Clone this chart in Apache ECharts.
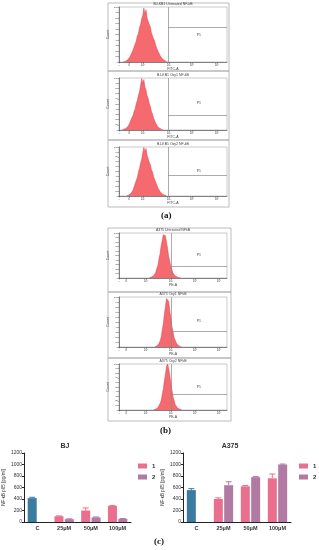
<!DOCTYPE html>
<html><head><meta charset="utf-8">
<script src="https://cdn.jsdelivr.net/npm/echarts@6/dist/echarts.min.js"></script>
<style>html,body{margin:0;padding:0;background:#fff}#c{width:319px;height:550px}</style>
</head><body><div id="c"></div>
<script>
// ---------- DATA ----------
// Flow cytometry histograms (counts per bin, bin width 10 channel units)
const histBinWidth = 10;
const histA1Start = 40;
const histA1 = [0,1,1,3,4,7,9,13,16,22,25,33,38,48,52,63,68,79,84,98,87,95,80,77,68,64,53,50,42,38,30,27,20,18,12,10,6,5,3,2,1,0];
const histA2Start = 30;
const histA2 = [0,1,2,3,4,7,9,14,17,24,28,36,41,51,57,67,74,86,99,89,97,82,77,66,61,51,45,36,31,23,20,13,11,6,5,3,1,1,0];
const histA3Start = 70;
const histA3 = [0,1,2,4,5,9,12,19,23,32,38,49,56,67,75,88,99,90,97,83,79,69,64,54,49,40,36,28,24,17,15,9,7,4,3,2,1,0];
const histB1Start = 280;
const histB1 = [0,1,2,3,5,8,12,21,28,42,54,71,83,96,100,94,79,65,48,37,25,19,11,8,5,3,2,1,1,0];
const histB2Start = 330;
const histB2 = [0,1,2,4,7,12,19,33,46,65,81,97,100,91,73,58,41,31,19,14,8,5,3,2,1,0];
const histB3Start = 320;
const histB3 = [0,1,2,3,5,8,14,20,33,45,63,78,95,100,90,77,58,44,29,21,12,8,5,3,2,1,0];

const histTitlesA = ['BJ-KB1 Untreated NF-kB', 'BJ-KB1 Oxy1 NF-kB', 'BJ-KB1 Oxy2 NF-kB'];
const histTitlesB = ['A375 Untreated NFkB', 'A375 Oxy1 NFkB', 'A375 Oxy2 NFkB'];
const histTickLabels = ['-', '0', '10²', '10³', '10⁴', '10⁵'];
const histTicksA = [0, 93, 222, 463, 676, 907];
const histTicksB = [0, 65, 250, 481, 704, 926];
// P1 gate (x start, level) and label position
const gateXA = 454, gateXB = 481;
const gateLevelA = [64, 29, 43];
const gateLevelB = [26, 32, 34];
const p1X = 740;
const p1YA = [49, 52, 51];
const p1YB = [51, 52, 49];

// Bar charts (c)
const barCategories = ['C', '25μM', '50μM', '100μM'];
const bjSeries1 = [415, 100, 200, 280];
const bjSeries2 = [null, 50, 80, 55];
const bjErr1 = [15, 6, 45, 8];
const bjErr2 = [null, 5, 8, 5];
const a375Series1 = [555, 400, 620, 760];
const a375Series2 = [null, 640, 780, 1000];
const a375Err1 = [25, 20, 15, 75];
const a375Err2 = [null, 60, 10, 8];

// ---------- STYLE / LAYOUT ----------
const FONT = 'Liberation Sans';
const histFill = '#f46a6f', histEdge = '#e5404c';
const colC = '#3b7ba0', col1 = '#ea6f8e', col2 = '#b17aa3';
const barW = 9, barGapPct = 0.15;
const barOffset = (barW + barW * barGapPct) / 2;

const histPanels = [
  {top: 7,   h: 55, start: histA1Start, counts: histA1, title: histTitlesA[0], ticks: histTicksA, gx: gateXA, gy: gateLevelA[0], py: p1YA[0], xname: 'FITC-A'},
  {top: 78,  h: 52, start: histA2Start, counts: histA2, title: histTitlesA[1], ticks: histTicksA, gx: gateXA, gy: gateLevelA[1], py: p1YA[1], xname: 'FITC-A'},
  {top: 147, h: 49, start: histA3Start, counts: histA3, title: histTitlesA[2], ticks: histTicksA, gx: gateXA, gy: gateLevelA[2], py: p1YA[2], xname: 'FITC-A'},
  {top: 233, h: 45, start: histB1Start, counts: histB1, title: histTitlesB[0], ticks: histTicksB, gx: gateXB, gy: gateLevelB[0], py: p1YB[0], xname: 'PE-A'},
  {top: 297, h: 50, start: histB2Start, counts: histB2, title: histTitlesB[1], ticks: histTicksB, gx: gateXB, gy: gateLevelB[1], py: p1YB[1], xname: 'PE-A'},
  {top: 364, h: 46, start: histB3Start, counts: histB3, title: histTitlesB[2], ticks: histTicksB, gx: gateXB, gy: gateLevelB[2], py: p1YB[2], xname: 'PE-A'}
];

const grids = [], xAxes = [], yAxes = [], series = [], titles = [];

histPanels.forEach((p, i) => {
  grids.push({left: 119, width: 108, top: p.top, height: p.h, show: true, borderColor: '#aaa', borderWidth: 0.6, backgroundColor: '#fff'});
  const labelMap = {};
  p.ticks.forEach((t, k) => { labelMap[t] = histTickLabels[k]; });
  xAxes.push({
    type: 'value', gridIndex: i, min: 0, max: 1000,
    name: p.xname, nameLocation: 'middle', nameGap: 5,
    nameTextStyle: {fontSize: 3.5, color: '#444', fontFamily: FONT},
    axisLine: {lineStyle: {color: '#555', width: 0.7}},
    axisTick: {customValues: p.ticks, length: 1.5, lineStyle: {color: '#555', width: 0.5}},
    axisLabel: {customValues: p.ticks, formatter: v => labelMap[v] || '', fontSize: 3, margin: 1.5, color: '#444', fontFamily: FONT},
    splitLine: {show: false}
  });
  yAxes.push({
    type: 'value', gridIndex: i, min: 0, max: 100, interval: 10,
    name: 'Count', nameLocation: 'middle', nameGap: 7,
    nameTextStyle: {fontSize: 3.5, color: '#444', fontFamily: FONT},
    axisLine: {show: true, lineStyle: {color: '#555', width: 0.7}},
    axisTick: {show: true, length: 1.2, lineStyle: {color: '#555', width: 0.5}},
    axisLabel: {fontSize: 2.5, margin: 1, color: '#444', fontFamily: FONT},
    splitLine: {show: false}
  });
  series.push({
    type: 'line', xAxisIndex: i, yAxisIndex: i, symbol: 'none', silent: true,
    data: p.counts.map((c, k) => [p.start + k * histBinWidth, c]),
    lineStyle: {color: histEdge, width: 0.5},
    areaStyle: {color: histFill, opacity: 1},
    markLine: {
      silent: true, symbol: ['none', 'none'], label: {show: false},
      lineStyle: {color: '#888', width: 0.7, type: 'solid'},
      data: [{xAxis: p.gx}, [{coord: [p.gx, p.gy]}, {coord: [1000, p.gy]}]]
    },
    markPoint: {
      symbol: 'circle', symbolSize: 1, itemStyle: {color: 'rgba(0,0,0,0)'},
      label: {show: true, formatter: 'P1', fontSize: 3.5, color: '#444', fontFamily: FONT},
      data: [{coord: [p1X, p.py]}]
    }
  });
  titles.push({text: p.title, left: 173, textAlign: 'center', top: p.top - 4.5, padding: 0,
    textStyle: {fontSize: 3.5, fontWeight: 'normal', color: '#444', fontFamily: FONT}});
});

// bar charts
const barCharts = [
  {left: 23, title: 'BJ', titleX: 65, s1: bjSeries1, s2: bjSeries2, e1: bjErr1, e2: bjErr2, legendX: 138},
  {left: 183, title: 'A375', titleX: 230, s1: a375Series1, s2: a375Series2, e1: a375Err1, e2: a375Err2, legendX: 299}
];
const legends = [];
function errRender(sign) {
  return function (params, api) {
    const i = api.value(0), v = api.value(1), e = api.value(2);
    const base = api.coord([i, v]);
    const top = api.coord([i, v + e]);
    const x = base[0] + sign * barOffset;
    const c = api.visual('color');
    return {type: 'group', children: [
      {type: 'line', shape: {x1: x, y1: base[1], x2: x, y2: top[1]}, style: {stroke: c, lineWidth: 1}},
      {type: 'line', shape: {x1: x - 3, y1: top[1], x2: x + 3, y2: top[1]}, style: {stroke: c, lineWidth: 1}}
    ]};
  };
}
barCharts.forEach((b, j) => {
  const gi = histPanels.length + j;
  grids.push({left: b.left, width: 108, top: 453, height: 69});
  xAxes.push({
    type: 'category', gridIndex: gi, data: barCategories,
    axisLine: {lineStyle: {color: '#222', width: 1}},
    axisTick: {show: false},
    axisLabel: {fontSize: 5.5, fontWeight: 'bold', color: '#333', margin: 3, fontFamily: FONT, interval: 0}
  });
  yAxes.push({
    type: 'value', gridIndex: gi, min: 0, max: 1200, interval: 200,
    name: 'NF-κB p65 [pg/ml]', nameLocation: 'middle', nameGap: 18,
    nameTextStyle: {fontSize: 4.5, color: '#333', fontFamily: FONT},
    axisLine: {show: true, lineStyle: {color: '#222', width: 1}},
    axisTick: {show: true, length: 2, lineStyle: {color: '#222'}},
    axisLabel: {fontSize: 5, color: '#333', margin: 2, fontFamily: FONT, formatter: v => String(v)},
    splitLine: {show: false}
  });
  series.push({
    name: '1', type: 'bar', xAxisIndex: gi, yAxisIndex: gi, barWidth: barW, barGap: (barGapPct * 100) + '%',
    itemStyle: {color: col1},
    data: b.s1.map((v, k) => k === 0 ? {value: v, itemStyle: {color: colC}} : v)
  });
  series.push({
    name: '2', type: 'bar', xAxisIndex: gi, yAxisIndex: gi, barWidth: barW, barGap: (barGapPct * 100) + '%',
    itemStyle: {color: col2},
    data: b.s2.map(v => v === null ? '-' : v)
  });
  series.push({
    name: 'err1', type: 'custom', xAxisIndex: gi, yAxisIndex: gi, renderItem: errRender(-1), silent: true, z: 1,
    itemStyle: {color: col1},
    data: b.e1.map((e, k) => ({value: [k, b.s1[k], e], itemStyle: {color: k === 0 ? colC : col1}}))
  });
  series.push({
    name: 'err2', type: 'custom', xAxisIndex: gi, yAxisIndex: gi, renderItem: errRender(1), silent: true, z: 1,
    itemStyle: {color: col2},
    data: b.e2.map((e, k) => e === null ? null : ({value: [k, b.s2[k], e]})).filter(d => d)
  });
  titles.push({text: b.title, left: b.titleX, textAlign: 'center', top: 443, padding: 0,
    textStyle: {fontSize: 7, fontWeight: 'bold', color: '#333', fontFamily: FONT}});
  legends.push({
    data: ['1', '2'], orient: 'vertical', left: b.legendX, top: 463, itemWidth: 9, itemHeight: 5, itemGap: 5,
    icon: 'rect', padding: 0, selectedMode: false,
    textStyle: {fontSize: 6, fontWeight: 'bold', color: '#333', fontFamily: FONT}
  });
});

const panelBox = {stroke: '#aaa', lineWidth: 0.8, fill: 'none'};
const option = {
  animation: false,
  backgroundColor: '#fff',
  title: titles,
  legend: legends,
  grid: grids,
  xAxis: xAxes,
  yAxis: yAxes,
  series: series,
  graphic: [
    {type: 'rect', shape: {x: 108, y: 3, width: 121, height: 68}, style: panelBox, silent: true},
    {type: 'rect', shape: {x: 108, y: 71, width: 121, height: 69}, style: panelBox, silent: true},
    {type: 'rect', shape: {x: 108, y: 140, width: 121, height: 67}, style: panelBox, silent: true},
    {type: 'rect', shape: {x: 108, y: 228, width: 123, height: 64}, style: panelBox, silent: true},
    {type: 'rect', shape: {x: 108, y: 292, width: 123, height: 66}, style: panelBox, silent: true},
    {type: 'rect', shape: {x: 108, y: 358, width: 123, height: 63}, style: panelBox, silent: true},
    {type: 'text', left: 161, top: 211, style: {text: '(a)', font: 'bold 9px "Liberation Serif"', fill: '#111'}},
    {type: 'text', left: 160, top: 426, style: {text: '(b)', font: 'bold 9px "Liberation Serif"', fill: '#111'}},
    {type: 'text', left: 154, top: 537, style: {text: '(c)', font: 'bold 9px "Liberation Serif"', fill: '#111'}}
  ]
};
const chart = echarts.init(document.getElementById('c'));
chart.setOption(option);
</script></body></html>
